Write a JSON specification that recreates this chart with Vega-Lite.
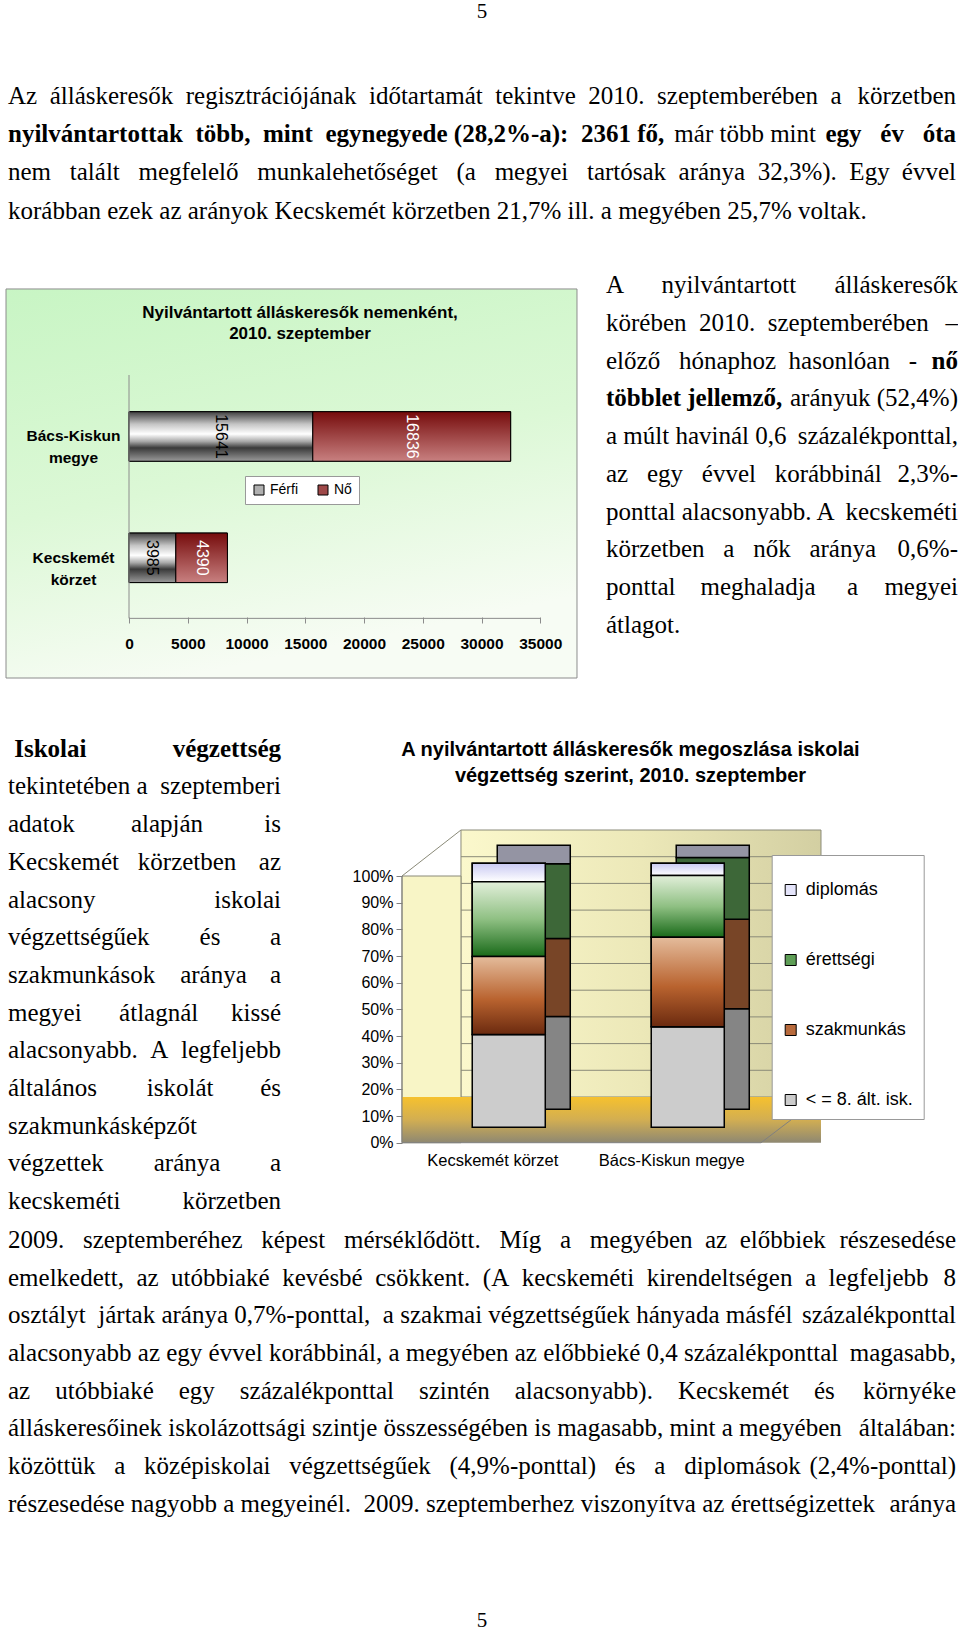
{
  "$schema": "https://vega.github.io/schema/vega-lite/v6.json",
  "background": "white",
  "padding": {"left": 5, "top": 0, "right": 0, "bottom": 0},
  "bounds": "flush",
  "spacing": 0,
  "resolve": {"scale": {"color": "independent"}, "legend": {"color": "independent"}},
  "config": {
    "view": {"stroke": null},
    "axis": {"labelColor": "black", "labelFont": "Liberation Sans"},
    "legend": {"labelColor": "black", "labelFont": "Liberation Sans"},
    "title": {"color": "black", "font": "Liberation Sans"}
  },
  "vconcat": [
    {
      "width": 948, "height": 270,
      "data": {"values": [
        {"l": 1, "s": "L", "b": 0, "t": "Az\u00a0\u00a0álláskeresők\u00a0\u00a0regisztrációjának\u00a0\u00a0időtartamát\u00a0\u00a0tekintve\u00a0\u00a02010.\u00a0\u00a0szeptemberében\u00a0\u00a0a"},
        {"l": 1, "s": "R", "b": 0, "t": "körzetben"},
        {"l": 2, "s": "L", "b": 1, "t": "nyilvántartottak\u00a0\u00a0több,\u00a0\u00a0mint\u00a0\u00a0egynegyede (28,2%-a):\u00a0\u00a02361 fő,"},
        {"l": 2, "s": "M", "b": 0, "t": "már több mint"},
        {"l": 2, "s": "R", "b": 1, "t": "egy\u00a0\u00a0\u00a0év\u00a0\u00a0\u00a0óta"},
        {"l": 3, "s": "L", "b": 0, "t": "nem\u00a0\u00a0\u00a0talált\u00a0\u00a0\u00a0megfelelő\u00a0\u00a0\u00a0munkalehetőséget\u00a0\u00a0\u00a0(a\u00a0\u00a0\u00a0megyei\u00a0\u00a0\u00a0tartósak\u00a0\u00a0aránya\u00a0\u00a032,3%).\u00a0\u00a0Egy"},
        {"l": 3, "s": "R", "b": 0, "t": "évvel"},
        {"l": 4, "s": "L", "b": 0, "t": "korábban ezek az arányok Kecskemét körzetben 21,7% ill. a megyében 25,7% voltak."}
      ]},
      "layer": [
        {"transform": [{"filter": "datum.s === 'L' && datum.b === 0"}],
         "mark": {"type": "text", "align": "left", "baseline": "alphabetic", "font": "Liberation Serif", "fontSize": 25, "color": "black"},
         "encoding": {
           "x": {"datum": 0, "type": "quantitative", "scale": {"domain": [0, 1], "nice": false, "zero": false}, "axis": null},
           "y": {"field": "l", "type": "quantitative", "scale": {"domain": [-1.735, 5.3516], "reverse": true, "nice": false, "zero": false}, "axis": null},
           "text": {"field": "t", "type": "nominal"}}},
        {"transform": [{"filter": "datum.s === 'R' && datum.b === 0"}],
         "mark": {"type": "text", "align": "right", "baseline": "alphabetic", "font": "Liberation Serif", "fontSize": 25, "color": "black"},
         "encoding": {
           "x": {"datum": 1, "type": "quantitative"},
           "y": {"field": "l", "type": "quantitative"},
           "text": {"field": "t", "type": "nominal"}}},
        {"transform": [{"filter": "datum.s === 'M'"}],
         "mark": {"type": "text", "align": "right", "baseline": "alphabetic", "font": "Liberation Serif", "fontSize": 25, "color": "black", "dx": -140},
         "encoding": {
           "x": {"datum": 1, "type": "quantitative"},
           "y": {"field": "l", "type": "quantitative"},
           "text": {"field": "t", "type": "nominal"}}},
        {"transform": [{"filter": "datum.s === 'L' && datum.b === 1"}],
         "mark": {"type": "text", "align": "left", "baseline": "alphabetic", "font": "Liberation Serif", "fontSize": 25, "fontWeight": "bold", "color": "black"},
         "encoding": {
           "x": {"datum": 0, "type": "quantitative"},
           "y": {"field": "l", "type": "quantitative"},
           "text": {"field": "t", "type": "nominal"}}},
        {"transform": [{"filter": "datum.s === 'R' && datum.b === 1"}],
         "mark": {"type": "text", "align": "right", "baseline": "alphabetic", "font": "Liberation Serif", "fontSize": 25, "fontWeight": "bold", "color": "black"},
         "encoding": {
           "x": {"datum": 1, "type": "quantitative"},
           "y": {"field": "l", "type": "quantitative"},
           "text": {"field": "t", "type": "nominal"}}},
        {"data": {"values": [{"p": "5"}]},
         "mark": {"type": "text", "align": "center", "baseline": "alphabetic", "font": "Liberation Serif", "fontSize": 21, "color": "black"},
         "encoding": {
           "x": {"datum": 0.5, "type": "quantitative"},
           "y": {"datum": -1.2625, "type": "quantitative"},
           "text": {"field": "p", "type": "nominal"}}}
      ]
    },
    {
      "width": 950, "height": 408,
      "title": {"text": ["Nyilvántartott álláskeresők nemenként,", "2010. szeptember"], "font": "Liberation Sans", "fontSize": 17, "fontWeight": "bold", "color": "black", "anchor": "start", "align": "center", "frame": "group", "orient": "top", "offset": -73, "dx": 292, "lineHeight": 21},
      "resolve": {"scale": {"x": "independent", "y": "independent"}},
      "layer": [
        {
          "data": {"values": [
            {"region": "Bács-Kiskun megye", "sex": "Férfi", "value": 15641, "ord": 1},
            {"region": "Bács-Kiskun megye", "sex": "Nő", "value": 16836, "ord": 2},
            {"region": "Kecskemét körzet", "sex": "Férfi", "value": 3985, "ord": 1},
            {"region": "Kecskemét körzet", "sex": "Nő", "value": 4390, "ord": 2}
          ]},
          "layer": [
            {"data": {"values": [{}]},
             "mark": {"type": "rect", "stroke": "#8c8c8c", "strokeWidth": 1,
                      "fill": {"gradient": "linear", "x1": 0, "y1": 0, "x2": 0.3, "y2": 1, "stops": [{"offset": 0, "color": "#c8f5c4"}, {"offset": 0.55, "color": "#dcf8d6"}, {"offset": 1, "color": "#f7fcf4"}]}},
             "encoding": {
               "x": {"datum": -10467, "type": "quantitative"},
               "x2": {"datum": 38124},
               "y": {"datum": "Bács-Kiskun megye", "type": "nominal", "bandPosition": -2.479},
               "y2": {"value": "height"}}},
            {"mark": {"type": "bar", "stroke": "black", "strokeWidth": 1},
             "encoding": {
               "y": {"field": "region", "type": "nominal", "title": null,
                     "scale": {"domain": ["Bács-Kiskun megye", "Kecskemét körzet"], "paddingInner": 0.592, "paddingOuter": 0.9771, "align": 0.5976},
                     "axis": {"title": null, "orient": "left", "offset": -65, "zindex": 1, "domain": false, "ticks": false, "tickSize": 0, "labelPadding": 0, "labelAlign": "center", "labelBaseline": "middle", "labelFontSize": 15.5, "labelFontWeight": "bold", "labelExpr": "split(datum.label, ' ')", "labelLineHeight": 22, "grid": false}},
               "x": {"field": "value", "type": "quantitative", "stack": "zero", "title": null,
                     "scale": {"domain": [-10297, 70547], "nice": false, "zero": false},
                     "axis": {"title": null, "orient": "bottom", "offset": -61, "zindex": 1, "values": [0, 5000, 10000, 15000, 20000, 25000, 30000, 35000], "format": "d", "domain": false, "ticks": true, "tickSize": 6, "tickColor": "#8c8c8c", "labelPadding": 20, "labelBaseline": "middle", "labelFontSize": 15.5, "labelFontWeight": "bold", "grid": false, "labelFlush": false, "labelOverlap": false}},
               "color": {"field": "sex", "type": "nominal",
                         "scale": {"domain": ["Férfi", "Nő"], "range": ["#b0b0b0", "#9e4848"]},
                         "legend": {"orient": "none", "legendX": 237, "legendY": 206, "direction": "horizontal", "title": null, "symbolType": "square", "symbolSize": 100, "symbolStrokeColor": "black", "symbolStrokeWidth": 1, "labelFontSize": 14, "labelFont": "Liberation Sans", "labelColor": "black", "labelOffset": 4, "columnPadding": 18, "padding": 7, "fillColor": "white", "strokeColor": "#999999"}},
               "order": {"field": "ord", "type": "quantitative"}}},
            {"transform": [
               {"stack": "value", "groupby": ["region"], "sort": [{"field": "ord", "order": "ascending"}], "as": ["v0", "v1"]},
               {"filter": "datum.sex === 'Férfi'"}],
             "mark": {"type": "bar", "stroke": "black", "strokeWidth": 1,
                      "fill": {"gradient": "linear", "x1": 0, "y1": 0, "x2": 0, "y2": 1, "stops": [{"offset": 0, "color": "#404040"}, {"offset": 0.25, "color": "#c4c4c4"}, {"offset": 0.45, "color": "#ffffff"}, {"offset": 0.6, "color": "#a8a8a8"}, {"offset": 0.73, "color": "#3a3a3a"}, {"offset": 1, "color": "#9a9a9a"}]}},
             "encoding": {
               "y": {"field": "region", "type": "nominal"},
               "x": {"field": "v0", "type": "quantitative"},
               "x2": {"field": "v1"}}},
            {"transform": [
               {"stack": "value", "groupby": ["region"], "sort": [{"field": "ord", "order": "ascending"}], "as": ["v0", "v1"]},
               {"filter": "datum.sex === 'Nő'"}],
             "mark": {"type": "bar", "stroke": "black", "strokeWidth": 1,
                      "fill": {"gradient": "linear", "x1": 0, "y1": 0, "x2": 0, "y2": 1, "stops": [{"offset": 0, "color": "#760c0c"}, {"offset": 1, "color": "#c88080"}]}},
             "encoding": {
               "y": {"field": "region", "type": "nominal"},
               "x": {"field": "v0", "type": "quantitative"},
               "x2": {"field": "v1"}}},
            {"mark": {"type": "text", "angle": 90, "font": "Liberation Sans", "fontSize": 16, "align": "center", "baseline": "middle"},
             "encoding": {
               "y": {"field": "region", "type": "nominal"},
               "x": {"field": "value", "type": "quantitative", "stack": "zero", "bandPosition": 0.5},
               "detail": {"field": "sex", "type": "nominal"},
               "order": {"field": "ord", "type": "quantitative"},
               "text": {"field": "value", "type": "quantitative", "format": "d"},
               "color": {"condition": {"test": "datum.sex === 'Nő'", "value": "white"}, "value": "black"}}},
            {"data": {"values": [{}]},
             "mark": {"type": "rule", "color": "#8c8c8c", "strokeWidth": 1},
             "encoding": {
               "x": {"datum": 0, "type": "quantitative"},
               "y": {"datum": "Bács-Kiskun megye", "type": "nominal", "bandPosition": -0.741},
               "y2": {"datum": "Kecskemét körzet", "bandPosition": 1.723}}},
            {"data": {"values": [{}]},
             "mark": {"type": "rule", "color": "#8c8c8c", "strokeWidth": 1},
             "encoding": {
               "x": {"datum": 0, "type": "quantitative"},
               "x2": {"datum": 35000},
               "y": {"datum": "Kecskemét körzet", "type": "nominal", "bandPosition": 1.723}}}
          ]
        },
        {
          "data": {"values": [
            {"l": 1, "s": "L", "b": 0, "t": "A\u00a0\u00a0\u00a0\u00a0\u00a0\u00a0nyilvántartott"},
            {"l": 1, "s": "R", "b": 0, "t": "álláskeresők"},
            {"l": 2, "s": "L", "b": 0, "t": "körében\u00a0\u00a02010.\u00a0\u00a0szeptemberében"},
            {"l": 2, "s": "R", "b": 0, "t": "–"},
            {"l": 3, "s": "L", "b": 0, "t": "előző\u00a0\u00a0\u00a0hónaphoz\u00a0\u00a0hasonlóan\u00a0\u00a0\u00a0-"},
            {"l": 3, "s": "R", "b": 1, "t": "nő"},
            {"l": 4, "s": "L", "b": 1, "t": "többlet jellemző,"},
            {"l": 4, "s": "R", "b": 0, "t": "arányuk (52,4%)"},
            {"l": 5, "s": "L", "b": 0, "t": "a múlt havinál 0,6"},
            {"l": 5, "s": "R", "b": 0, "t": "százalékponttal,"},
            {"l": 6, "s": "L", "b": 0, "t": "az\u00a0\u00a0\u00a0egy\u00a0\u00a0\u00a0évvel\u00a0\u00a0\u00a0korábbinál"},
            {"l": 6, "s": "R", "b": 0, "t": "2,3%-"},
            {"l": 7, "s": "L", "b": 0, "t": "ponttal alacsonyabb. A"},
            {"l": 7, "s": "R", "b": 0, "t": "kecskeméti"},
            {"l": 8, "s": "L", "b": 0, "t": "körzetben\u00a0\u00a0\u00a0a\u00a0\u00a0\u00a0nők\u00a0\u00a0\u00a0aránya"},
            {"l": 8, "s": "R", "b": 0, "t": "0,6%-"},
            {"l": 9, "s": "L", "b": 0, "t": "ponttal\u00a0\u00a0\u00a0\u00a0meghaladja\u00a0\u00a0\u00a0\u00a0\u00a0a"},
            {"l": 9, "s": "R", "b": 0, "t": "megyei"},
            {"l": 10, "s": "L", "b": 0, "t": "átlagot."}
          ]},
          "layer": [
            {"transform": [{"filter": "datum.s === 'L' && datum.b === 0"}],
             "mark": {"type": "text", "align": "left", "baseline": "alphabetic", "font": "Liberation Serif", "fontSize": 25, "color": "black"},
             "encoding": {
               "x": {"datum": 0, "type": "quantitative", "scale": {"domain": [-1.699, 1], "nice": false, "zero": false}, "axis": null},
               "y": {"field": "l", "type": "quantitative", "scale": {"domain": [0.382, 11.204], "reverse": true, "nice": false, "zero": false}, "axis": null},
               "text": {"field": "t", "type": "nominal"}}},
            {"transform": [{"filter": "datum.s === 'R' && datum.b === 0"}],
             "mark": {"type": "text", "align": "right", "baseline": "alphabetic", "font": "Liberation Serif", "fontSize": 25, "color": "black"},
             "encoding": {
               "x": {"datum": 1, "type": "quantitative"},
               "y": {"field": "l", "type": "quantitative"},
               "text": {"field": "t", "type": "nominal"}}},
            {"transform": [{"filter": "datum.s === 'L' && datum.b === 1"}],
             "mark": {"type": "text", "align": "left", "baseline": "alphabetic", "font": "Liberation Serif", "fontSize": 25, "fontWeight": "bold", "color": "black"},
             "encoding": {
               "x": {"datum": 0, "type": "quantitative"},
               "y": {"field": "l", "type": "quantitative"},
               "text": {"field": "t", "type": "nominal"}}},
            {"transform": [{"filter": "datum.s === 'R' && datum.b === 1"}],
             "mark": {"type": "text", "align": "right", "baseline": "alphabetic", "font": "Liberation Serif", "fontSize": 25, "fontWeight": "bold", "color": "black"},
             "encoding": {
               "x": {"datum": 1, "type": "quantitative"},
               "y": {"field": "l", "type": "quantitative"},
               "text": {"field": "t", "type": "nominal"}}}
          ]
        }
      ]
    },
    {
      "width": 950, "height": 542,
      "title": {"text": ["A nyilvántartott álláskeresők megoszlása iskolai", "végzettség szerint, 2010. szeptember"], "font": "Liberation Sans", "fontSize": 20, "fontWeight": "bold", "color": "black", "anchor": "start", "align": "center", "frame": "group", "orient": "top", "offset": -108, "dx": 622.5, "lineHeight": 26},
      "resolve": {"scale": {"x": "independent", "y": "independent"}},
      "layer": [
        {
          "data": {"values": [
            {"l": 1, "s": "L", "b": 1, "t": "\u200b\u00a0Iskolai"},
            {"l": 1, "s": "R", "b": 1, "t": "végzettség"},
            {"l": 2, "s": "L", "b": 0, "t": "tekintetében a"},
            {"l": 2, "s": "R", "b": 0, "t": "szeptemberi"},
            {"l": 3, "s": "L", "b": 0, "t": "adatok\u00a0\u00a0\u00a0\u00a0\u00a0\u00a0\u00a0\u00a0\u00a0alapján"},
            {"l": 3, "s": "R", "b": 0, "t": "is"},
            {"l": 4, "s": "L", "b": 0, "t": "Kecskemét\u00a0\u00a0\u00a0körzetben"},
            {"l": 4, "s": "R", "b": 0, "t": "az"},
            {"l": 5, "s": "L", "b": 0, "t": "alacsony"},
            {"l": 5, "s": "R", "b": 0, "t": "iskolai"},
            {"l": 6, "s": "L", "b": 0, "t": "végzettségűek\u00a0\u00a0\u00a0\u00a0\u00a0\u00a0\u00a0\u00a0és"},
            {"l": 6, "s": "R", "b": 0, "t": "a"},
            {"l": 7, "s": "L", "b": 0, "t": "szakmunkások\u00a0\u00a0\u00a0\u00a0aránya"},
            {"l": 7, "s": "R", "b": 0, "t": "a"},
            {"l": 8, "s": "L", "b": 0, "t": "megyei\u00a0\u00a0\u00a0\u00a0\u00a0\u00a0átlagnál"},
            {"l": 8, "s": "R", "b": 0, "t": "kissé"},
            {"l": 9, "s": "L", "b": 0, "t": "alacsonyabb.\u00a0\u00a0A"},
            {"l": 9, "s": "R", "b": 0, "t": "legfeljebb"},
            {"l": 10, "s": "L", "b": 0, "t": "általános\u00a0\u00a0\u00a0\u00a0\u00a0\u00a0\u00a0\u00a0iskolát"},
            {"l": 10, "s": "R", "b": 0, "t": "és"},
            {"l": 11, "s": "L", "b": 0, "t": "szakmunkásképzőt"},
            {"l": 12, "s": "L", "b": 0, "t": "végzettek\u00a0\u00a0\u00a0\u00a0\u00a0\u00a0\u00a0\u00a0aránya"},
            {"l": 12, "s": "R", "b": 0, "t": "a"},
            {"l": 13, "s": "L", "b": 0, "t": "kecskeméti"},
            {"l": 13, "s": "R", "b": 0, "t": "körzetben"}
          ]},
          "layer": [
            {"transform": [{"filter": "datum.s === 'L' && datum.b === 0"}],
             "mark": {"type": "text", "align": "left", "baseline": "alphabetic", "font": "Liberation Serif", "fontSize": 25, "color": "black"},
             "encoding": {
               "x": {"datum": 0, "type": "quantitative", "scale": {"domain": [0, 3.4799], "nice": false, "zero": false}, "axis": null},
               "y": {"field": "l", "type": "quantitative", "scale": {"domain": [-1.0875, 13.289], "reverse": true, "nice": false, "zero": false}, "axis": null},
               "text": {"field": "t", "type": "nominal"}}},
            {"transform": [{"filter": "datum.s === 'R' && datum.b === 0"}],
             "mark": {"type": "text", "align": "right", "baseline": "alphabetic", "font": "Liberation Serif", "fontSize": 25, "color": "black"},
             "encoding": {
               "x": {"datum": 1, "type": "quantitative"},
               "y": {"field": "l", "type": "quantitative"},
               "text": {"field": "t", "type": "nominal"}}},
            {"transform": [{"filter": "datum.s === 'L' && datum.b === 1"}],
             "mark": {"type": "text", "align": "left", "baseline": "alphabetic", "font": "Liberation Serif", "fontSize": 25, "fontWeight": "bold", "color": "black"},
             "encoding": {
               "x": {"datum": 0, "type": "quantitative"},
               "y": {"field": "l", "type": "quantitative"},
               "text": {"field": "t", "type": "nominal"}}},
            {"transform": [{"filter": "datum.s === 'R' && datum.b === 1"}],
             "mark": {"type": "text", "align": "right", "baseline": "alphabetic", "font": "Liberation Serif", "fontSize": 25, "fontWeight": "bold", "color": "black"},
             "encoding": {
               "x": {"datum": 1, "type": "quantitative"},
               "y": {"field": "l", "type": "quantitative"},
               "text": {"field": "t", "type": "nominal"}}}
          ]
        },
        {
          "data": {"values": [{}]},
          "layer": [
            {"mark": {"type": "rect", "fill": {"gradient": "linear", "x1": 0, "y1": 0, "x2": 1, "y2": 0, "stops": [{"offset": 0, "color": "#fbf8cc"}, {"offset": 0.5, "color": "#ece8b8"}, {"offset": 1, "color": "#d3cfa2"}]}, "stroke": "#8a8a78", "strokeWidth": 1},
             "encoding": {
               "x": {"datum": 0.1408, "type": "quantitative", "scale": {"domain": [-0.9403, 1.327], "nice": false, "zero": false}, "axis": null},
               "x2": {"datum": 1},
               "y": {"datum": 1, "type": "quantitative", "scale": {"domain": [-0.4607, 1.5693], "nice": false, "zero": false}, "axis": null},
               "y2": {"datum": 0}}},
            {"mark": {"type": "rect", "fill": "#f8f5c6", "stroke": "#8a8a78", "strokeWidth": 1},
             "encoding": {
               "x": {"datum": 0, "type": "quantitative"},
               "x2": {"datum": 0.1408},
               "y": {"datum": 0.8277, "type": "quantitative"},
               "y2": {"datum": -0.1712}}},
            {"mark": {"type": "rect", "fill": {"gradient": "linear", "x1": 0, "y1": 0, "x2": 0, "y2": 1, "stops": [{"offset": 0, "color": "#f6c12e"}, {"offset": 0.5, "color": "#d2ae52"}, {"offset": 1, "color": "#8e8872"}]}},
             "encoding": {
               "x": {"datum": 0, "type": "quantitative"},
               "x2": {"datum": 1},
               "y": {"datum": 0, "type": "quantitative"},
               "y2": {"datum": -0.1712}}},
            {"data": {"values": [{"g": 0.1}, {"g": 0.2}, {"g": 0.3}, {"g": 0.4}, {"g": 0.5}, {"g": 0.6}, {"g": 0.7}, {"g": 0.8}, {"g": 0.9}]},
             "mark": {"type": "rule", "color": "#8a8a78", "strokeWidth": 1},
             "encoding": {
               "x": {"datum": 0.1408, "type": "quantitative"},
               "x2": {"datum": 1},
               "y": {"field": "g", "type": "quantitative"}}},
            {"mark": {"type": "rule", "color": "#8a8a78", "strokeWidth": 1},
             "encoding": {
               "x": {"datum": 0, "type": "quantitative"},
               "y": {"datum": 0.8277, "type": "quantitative"},
               "x2": {"datum": 0.1408},
               "y2": {"datum": 1}}},
            {"mark": {"type": "rule", "color": "#808080", "strokeWidth": 1},
             "encoding": {
               "x": {"datum": 0, "type": "quantitative"},
               "y": {"datum": -0.1712, "type": "quantitative"},
               "x2": {"datum": 0.857}}},
            {"mark": {"type": "rule", "color": "#808080", "strokeWidth": 1},
             "encoding": {
               "x": {"datum": 0.857, "type": "quantitative"},
               "y": {"datum": -0.1712, "type": "quantitative"},
               "x2": {"datum": 1},
               "y2": {"datum": 0}}}
          ]
        },
        {
          "data": {"values": [{}]},
          "layer": [
            {"mark": {"type": "point", "opacity": 0},
             "encoding": {
               "x": {"datum": 0, "type": "quantitative", "scale": {"domain": [-0.9403, 1.327], "nice": false, "zero": false}, "axis": null},
               "y": {"datum": 0, "type": "quantitative", "scale": {"domain": [-0.2898, 1.7424], "nice": false, "zero": false},
                     "axis": {"orient": "left", "offset": -394, "zindex": 1, "title": null, "grid": false, "values": [0, 0.1, 0.2, 0.3, 0.4, 0.5, 0.6, 0.7, 0.8, 0.9, 1], "format": ".0%", "labelFontSize": 16, "tickSize": 6, "tickColor": "#808080", "labelPadding": 3, "domain": false}}}},
            {"mark": {"type": "rule", "color": "#808080", "strokeWidth": 1},
             "encoding": {
               "x": {"datum": 0, "type": "quantitative"},
               "y": {"datum": 0, "type": "quantitative"},
               "y2": {"datum": 1}}}
          ]
        },
        {
          "data": {"values": [
            {"region": "Kecskemét körzet", "level": "< = 8. ált. isk.", "pct": 35.2, "ord": 1},
            {"region": "Kecskemét körzet", "level": "szakmunkás", "pct": 29.5, "ord": 2},
            {"region": "Kecskemét körzet", "level": "érettségi", "pct": 28.3, "ord": 3},
            {"region": "Kecskemét körzet", "level": "diplomás", "pct": 7.0, "ord": 4},
            {"region": "Bács-Kiskun megye", "level": "< = 8. ált. isk.", "pct": 38.1, "ord": 1},
            {"region": "Bács-Kiskun megye", "level": "szakmunkás", "pct": 33.9, "ord": 2},
            {"region": "Bács-Kiskun megye", "level": "érettségi", "pct": 23.4, "ord": 3},
            {"region": "Bács-Kiskun megye", "level": "diplomás", "pct": 4.6, "ord": 4}
          ]},
          "layer": [
            {"mark": {"type": "bar", "xOffset": 25, "x2Offset": 25, "yOffset": -18, "y2Offset": -18, "stroke": "black", "strokeWidth": 1.5},
             "encoding": {
               "x": {"field": "region", "type": "nominal", "scale": {"domain": ["_", "Kecskemét körzet", "Bács-Kiskun megye", "__"], "paddingInner": 0.592, "paddingOuter": 0.9497, "align": 0.839},
                     "axis": {"title": null, "orient": "bottom", "offset": -77.3, "zindex": 1, "values": ["Kecskemét körzet", "Bács-Kiskun megye"], "labelAngle": 0, "labelOffset": -16, "labelPadding": 10, "labelFontSize": 16.5, "ticks": false, "domain": false, "grid": false}},
               "y": {"field": "pct", "type": "quantitative", "stack": "normalize", "scale": {"domain": [-0.3511, 1.7019], "nice": false, "zero": false}, "axis": null},
               "color": {"field": "level", "type": "nominal",
                         "scale": {"domain": ["diplomás", "érettségi", "szakmunkás", "< = 8. ált. isk."], "range": ["#e4e4fa", "#5e9e56", "#b86a3c", "#cccccc"]},
                         "legend": {"orient": "none", "legendX": 763.7, "legendY": 177, "direction": "vertical", "title": " ", "titleFontSize": 8, "titlePadding": 8, "symbolType": "square", "symbolSize": 121, "symbolStrokeColor": "black", "symbolStrokeWidth": 1, "labelFontSize": 18, "labelFont": "Liberation Sans", "labelColor": "black", "labelOffset": 6, "rowPadding": 52, "padding": 10, "fillColor": "white", "strokeColor": "#999999", "labelLimit": 300}},
               "order": {"field": "ord", "type": "quantitative"}}},
            {"mark": {"type": "bar", "xOffset": 25, "x2Offset": 25, "yOffset": -18, "y2Offset": -18, "color": "black", "opacity": 0.35, "strokeWidth": 0},
             "encoding": {
               "x": {"field": "region", "type": "nominal"},
               "y": {"field": "pct", "type": "quantitative", "stack": "normalize", "axis": null},
               "detail": {"field": "level", "type": "nominal"},
               "order": {"field": "ord", "type": "quantitative"}}},
            {"mark": {"type": "bar", "stroke": "black", "strokeWidth": 1.5},
             "encoding": {
               "x": {"field": "region", "type": "nominal"},
               "y": {"field": "pct", "type": "quantitative", "stack": "normalize", "axis": null},
               "color": {"field": "level", "type": "nominal"},
               "order": {"field": "ord", "type": "quantitative"}}},
            {"transform": [
               {"stack": "pct", "groupby": ["region"], "sort": [{"field": "ord", "order": "ascending"}], "offset": "normalize", "as": ["y0", "y1"]},
               {"filter": "datum.level === 'diplomás'"}],
             "mark": {"type": "bar", "stroke": "black", "strokeWidth": 1.5,
                      "fill": {"gradient": "linear", "x1": 0, "y1": 0, "x2": 0, "y2": 1, "stops": [{"offset": 0, "color": "#c9c9f2"}, {"offset": 1, "color": "#ffffff"}]}},
             "encoding": {
               "x": {"field": "region", "type": "nominal"},
               "y": {"field": "y0", "type": "quantitative", "axis": null},
               "y2": {"field": "y1"}}},
            {"transform": [
               {"stack": "pct", "groupby": ["region"], "sort": [{"field": "ord", "order": "ascending"}], "offset": "normalize", "as": ["y0", "y1"]},
               {"filter": "datum.level === 'érettségi'"}],
             "mark": {"type": "bar", "stroke": "black", "strokeWidth": 1.5,
                      "fill": {"gradient": "linear", "x1": 0, "y1": 0, "x2": 0, "y2": 1, "stops": [{"offset": 0, "color": "#e2efda"}, {"offset": 0.5, "color": "#8fc083"}, {"offset": 1, "color": "#196a19"}]}},
             "encoding": {
               "x": {"field": "region", "type": "nominal"},
               "y": {"field": "y0", "type": "quantitative", "axis": null},
               "y2": {"field": "y1"}}},
            {"transform": [
               {"stack": "pct", "groupby": ["region"], "sort": [{"field": "ord", "order": "ascending"}], "offset": "normalize", "as": ["y0", "y1"]},
               {"filter": "datum.level === 'szakmunkás'"}],
             "mark": {"type": "bar", "stroke": "black", "strokeWidth": 1.5,
                      "fill": {"gradient": "linear", "x1": 0, "y1": 0, "x2": 0, "y2": 1, "stops": [{"offset": 0, "color": "#e4bc9c"}, {"offset": 0.55, "color": "#b9632f"}, {"offset": 1, "color": "#6b2a0f"}]}},
             "encoding": {
               "x": {"field": "region", "type": "nominal"},
               "y": {"field": "y0", "type": "quantitative", "axis": null},
               "y2": {"field": "y1"}}}
          ]
        }
      ]
    },
    {
      "width": 948, "height": 409,
      "data": {"values": [
        {"l": 1, "s": "L", "b": 0, "t": "2009.\u00a0\u00a0\u00a0szeptemberéhez\u00a0\u00a0\u00a0képest\u00a0\u00a0\u00a0mérséklődött.\u00a0\u00a0\u00a0Míg\u00a0\u00a0\u00a0a\u00a0\u00a0\u00a0megyében\u00a0\u00a0az\u00a0\u00a0előbbiek"},
        {"l": 1, "s": "R", "b": 0, "t": "részesedése"},
        {"l": 2, "s": "L", "b": 0, "t": "emelkedett,\u00a0\u00a0az\u00a0\u00a0utóbbiaké\u00a0\u00a0kevésbé\u00a0\u00a0csökkent.\u00a0\u00a0(A\u00a0\u00a0kecskeméti\u00a0\u00a0kirendeltségen\u00a0\u00a0a\u00a0\u00a0legfeljebb"},
        {"l": 2, "s": "R", "b": 0, "t": "8"},
        {"l": 3, "s": "L", "b": 0, "t": "osztályt\u00a0\u00a0jártak aránya 0,7%-ponttal,\u00a0\u00a0a szakmai végzettségűek hányada másfél"},
        {"l": 3, "s": "R", "b": 0, "t": "százalékponttal"},
        {"l": 4, "s": "L", "b": 0, "t": "alacsonyabb az egy évvel korábbinál, a megyében az előbbieké 0,4 százalékponttal"},
        {"l": 4, "s": "R", "b": 0, "t": "magasabb,"},
        {"l": 5, "s": "L", "b": 0, "t": "az\u00a0\u00a0\u00a0\u00a0utóbbiaké\u00a0\u00a0\u00a0\u00a0egy\u00a0\u00a0\u00a0\u00a0százalékponttal\u00a0\u00a0\u00a0\u00a0szintén\u00a0\u00a0\u00a0\u00a0alacsonyabb).\u00a0\u00a0\u00a0\u00a0Kecskemét\u00a0\u00a0\u00a0\u00a0és"},
        {"l": 5, "s": "R", "b": 0, "t": "környéke"},
        {"l": 6, "s": "L", "b": 0, "t": "álláskeresőinek iskolázottsági szintje összességében is magasabb, mint a megyében"},
        {"l": 6, "s": "R", "b": 0, "t": "általában:"},
        {"l": 7, "s": "L", "b": 0, "t": "közöttük\u00a0\u00a0\u00a0a\u00a0\u00a0\u00a0középiskolai\u00a0\u00a0\u00a0végzettségűek\u00a0\u00a0\u00a0(4,9%-ponttal)\u00a0\u00a0\u00a0és\u00a0\u00a0\u00a0a\u00a0\u00a0\u00a0diplomások"},
        {"l": 7, "s": "R", "b": 0, "t": "(2,4%-ponttal)"},
        {"l": 8, "s": "L", "b": 0, "t": "részesedése nagyobb a megyeinél.\u00a0\u00a02009. szeptemberhez viszonyítva az érettségizettek"},
        {"l": 8, "s": "R", "b": 0, "t": "aránya"}
      ]},
      "layer": [
        {"transform": [{"filter": "datum.s === 'L' && datum.b === 0"}],
         "mark": {"type": "text", "align": "left", "baseline": "alphabetic", "font": "Liberation Serif", "fontSize": 25, "color": "black"},
         "encoding": {
           "x": {"datum": 0, "type": "quantitative", "scale": {"domain": [0, 1], "nice": false, "zero": false}, "axis": null},
           "y": {"field": "l", "type": "quantitative", "scale": {"domain": [0.2573, 11.1061], "reverse": true, "nice": false, "zero": false}, "axis": null},
           "text": {"field": "t", "type": "nominal"}}},
        {"transform": [{"filter": "datum.s === 'R' && datum.b === 0"}],
         "mark": {"type": "text", "align": "right", "baseline": "alphabetic", "font": "Liberation Serif", "fontSize": 25, "color": "black"},
         "encoding": {
           "x": {"datum": 1, "type": "quantitative"},
           "y": {"field": "l", "type": "quantitative"},
           "text": {"field": "t", "type": "nominal"}}},
        {"data": {"values": [{"p": "5"}]},
         "mark": {"type": "text", "align": "center", "baseline": "alphabetic", "font": "Liberation Serif", "fontSize": 21, "color": "black"},
         "encoding": {
           "x": {"datum": 0.5, "type": "quantitative"},
           "y": {"datum": 11.045, "type": "quantitative"},
           "text": {"field": "p", "type": "nominal"}}}
      ]
    }
  ]
}
